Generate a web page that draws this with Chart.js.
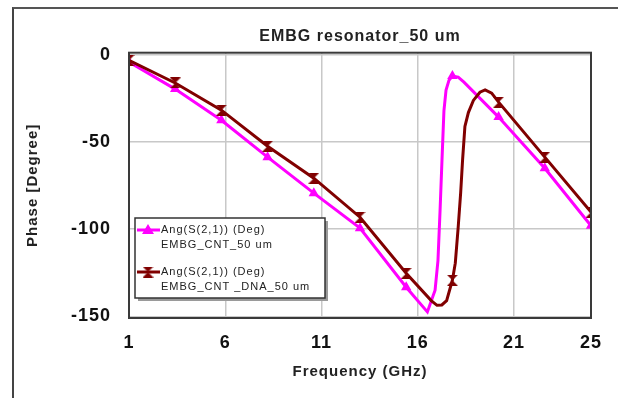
<!DOCTYPE html>
<html>
<head>
<meta charset="utf-8">
<script src="https://cdn.jsdelivr.net/npm/chart.js@4"></script>
<style>
  html, body { margin: 0; padding: 0; background: #fff; }
  #wrap { position: relative; width: 618px; height: 398px; overflow: hidden; }
  #frame { position: absolute; left: 12px; top: 7px; width: 700px; height: 500px;
           border-left: 2px solid #444; border-top: 2px solid #555; pointer-events: none; }
  canvas { position: absolute; left: 0; top: 0; }
</style>
</head>
<body>
<div id="wrap">
  <canvas id="chart" width="618" height="398"></canvas>
  <div id="frame"></div>
</div>
<script>
// ── data ─────────────────────────────────────────────────────
const chartTitle = "EMBG resonator_50 um";
const xTitle = "Frequency (GHz)";
const yTitle = "Phase [Degree]";

const xTicks = [1, 6, 11, 16, 21, 25];
const yTicks = [-150, -100, -50, 0];

// frequencies (GHz) where the simulator put its markers
const markerFreqs = [1, 3.4, 5.8, 8.2, 10.6, 13, 15.4, 17.8, 20.2, 22.6, 25];

// EMBG_CNT_50 um
const freqCnt = [1, 3.4, 5.8, 8.2, 10.6, 13, 15.4, 16.5, 16.9, 17.05, 17.16, 17.26, 17.36, 17.47, 17.62, 17.8, 18.1, 18.4, 20.2, 22.6, 25];
const phaseCnt = [-4, -19.5, -37.4, -58.6, -79.3, -99.4, -133.3, -147.5, -135, -118, -89, -60, -32, -20, -14.5, -12, -12.6, -15.5, -35.6, -65, -98];

// EMBG_CNT _DNA_50 um
const freqDna = [1, 3.4, 5.8, 8.2, 10.6, 13, 15.4, 16.7, 17.0, 17.25, 17.5, 17.8, 17.95, 18.1, 18.23, 18.33, 18.45, 18.63, 18.89, 19.23, 19.5, 19.84, 20.2, 22.6, 25];
const phaseDna = [-3, -16, -31.6, -52.3, -70.7, -93.1, -125.3, -141, -143.7, -143.5, -141, -129.3, -119.5, -99, -79, -60, -41, -33, -26, -21.3, -20, -21.8, -27, -58.6, -90.2];

const seriesNames = [
  ["Ang(S(2,1)) (Deg)", "EMBG_CNT_50 um"],
  ["Ang(S(2,1)) (Deg)", "EMBG_CNT _DNA_50 um"],
];
const seriesColors = ["#FF00FF", "#800000"];

const FONT = "'Liberation Sans', Arial, sans-serif";

// hourglass marker for the DNA trace
function hourglass(color, s) {
  const c = document.createElement("canvas");
  c.width = s; c.height = s;
  const g = c.getContext("2d");
  g.fillStyle = color;
  g.beginPath();
  g.moveTo(0, 0); g.lineTo(s, 0); g.lineTo(s / 2, s / 2); g.closePath();
  g.moveTo(s / 2, s / 2); g.lineTo(s, s); g.lineTo(0, s); g.closePath();
  g.fill();
  return c;
}
const dnaMarker = hourglass(seriesColors[1], 11);

const isMarker = (ctx) => {
  const p = ctx.raw;
  return p && markerFreqs.some((f) => Math.abs(f - p.x) < 1e-6);
};

// ADS-ish spaced lettering
const spacingPlugin = {
  id: "spacing",
  beforeUpdate(chart) { chart.ctx.letterSpacing = "1px"; },
  beforeDraw(chart) { chart.ctx.letterSpacing = "1px"; },
};

// plot frame on top of the grid
const framePlugin = {
  id: "plotFrame",
  afterDatasetsDraw(chart) {
    const { ctx, chartArea: a } = chart;
    ctx.save();
    ctx.strokeStyle = "#3a3a3a";
    ctx.lineWidth = 2;
    ctx.strokeRect(a.left, a.top, a.right - a.left, a.bottom - a.top);
    ctx.restore();
  },
};

// boxed legend inside the plot, two text lines per entry
const legendPlugin = {
  id: "boxLegend",
  afterDraw(chart) {
    const ctx = chart.ctx;
    const bx = 135, by = 218, bw = 190, bh = 80;
    ctx.save();
    ctx.fillStyle = "#9a9a9a";
    ctx.fillRect(bx + 3, by + 3, bw, bh);
    ctx.fillStyle = "#fff";
    ctx.fillRect(bx, by, bw, bh);
    ctx.strokeStyle = "#333";
    ctx.lineWidth = 1.5;
    ctx.strokeRect(bx, by, bw, bh);

    chart.data.datasets.forEach((ds, i) => {
      const y0 = 230 + i * 42;
      ctx.strokeStyle = ds.borderColor;
      ctx.lineWidth = 3;
      ctx.beginPath();
      ctx.moveTo(137, y0);
      ctx.lineTo(160, y0);
      ctx.stroke();
      ctx.fillStyle = ds.borderColor;
      if (i === 0) {
        ctx.beginPath();
        ctx.moveTo(148, y0 - 6); ctx.lineTo(154, y0 + 4); ctx.lineTo(142, y0 + 4);
        ctx.closePath(); ctx.fill();
      } else {
        ctx.drawImage(dnaMarker, 148 - 5.5, y0 - 5.5);
      }
      ctx.fillStyle = "#222";
      ctx.font = "11px " + FONT;
      ctx.textBaseline = "middle";
      ctx.textAlign = "left";
      ds.label.forEach((line, k) => ctx.fillText(line, 161, y0 + k * 14.5));
    });
    ctx.restore();
  },
};

const toPoints = (xs, ys) => xs.map((x, i) => ({ x, y: ys[i] }));

new Chart(document.getElementById("chart"), {
  type: "line",
  data: {
    datasets: [
      {
        label: seriesNames[0],
        data: toPoints(freqCnt, phaseCnt),
        borderColor: seriesColors[0],
        backgroundColor: seriesColors[0],
        borderWidth: 3,
        pointStyle: "triangle",
        pointRadius: (ctx) => (isMarker(ctx) ? 6 : 0),
        pointBorderWidth: 0,
        tension: 0,
        order: 1,
      },
      {
        label: seriesNames[1],
        data: toPoints(freqDna, phaseDna),
        borderColor: seriesColors[1],
        backgroundColor: seriesColors[1],
        borderWidth: 3,
        pointStyle: dnaMarker,
        pointRadius: (ctx) => (isMarker(ctx) ? 5 : 0),
        tension: 0,
        order: 0,
      },
    ],
  },
  options: {
    responsive: false,
    animation: false,
    layout: { padding: { left: 0, right: 27, top: 0, bottom: 0 } },
    scales: {
      x: {
        type: "linear",
        min: 1,
        max: 25,
        afterBuildTicks: (s) => { s.ticks = xTicks.map((v) => ({ value: v })); },
        afterFit: (s) => { s.height = 80; },
        ticks: { color: "#111", padding: 14, font: { family: FONT, size: 18, weight: "bold" } },
        grid: { color: "#c8c8c8", lineWidth: 1.5, drawTicks: false },
        border: { display: false },
        title: {
          display: true, text: xTitle, color: "#222",
          font: { family: FONT, size: 15, weight: "bold" },
          padding: { top: 0, bottom: 17 },
        },
      },
      y: {
        min: -151,
        max: 1.4,
        afterBuildTicks: (s) => { s.ticks = yTicks.map((v) => ({ value: v })); },
        afterFit: (s) => { s.width = 129; },
        ticks: { color: "#111", padding: 18, font: { family: FONT, size: 18, weight: "bold" } },
        grid: { color: "#c8c8c8", lineWidth: 1.5, drawTicks: false },
        border: { display: false },
        title: {
          display: true, text: yTitle, color: "#222",
          font: { family: FONT, size: 15, weight: "bold" },
          padding: { top: 24, bottom: 0 },
        },
      },
    },
    plugins: {
      legend: { display: false },
      tooltip: { enabled: false },
      title: {
        display: true,
        text: chartTitle,
        fullSize: false,
        color: "#222",
        font: { family: FONT, size: 16, weight: "bold" },
        padding: { top: 27.4, bottom: 6.1 },
      },
    },
  },
  plugins: [spacingPlugin, framePlugin, legendPlugin],
});
</script>
</body>
</html>
